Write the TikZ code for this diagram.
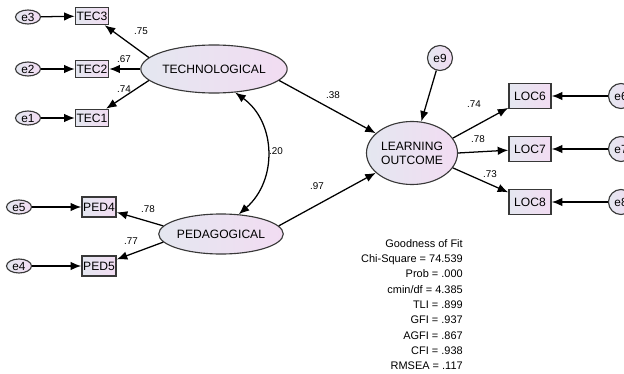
\documentclass[tikz,border=0pt]{standalone}
\usepackage{fontspec}
\setmainfont{Liberation Sans}
\usetikzlibrary{arrows.meta,shapes.geometric}
\definecolor{shadeL}{HTML}{E4E7F0}
\definecolor{shadeR}{HTML}{F2DCF2}
\definecolor{rim}{HTML}{383838}
\tikzset{
  latent/.style={ellipse,draw=rim,line width=0.8pt,left color=shadeL,right color=shadeR,
    inner sep=0pt,align=center,font=\fontsize{8.6}{10}\selectfont},
  observed/.style={rectangle,draw=rim,line width=1.1pt,left color=shadeL,right color=shadeR,
    inner sep=0pt,font=\fontsize{8.6}{10}\selectfont},
  errvar/.style={ellipse,draw=rim,line width=0.8pt,left color=shadeL,right color=shadeR,
    inner sep=0pt,minimum width=0.625cm,minimum height=0.35cm,font=\fontsize{8.4}{10}\selectfont},
  errcirc/.style={circle,draw=rim,line width=0.8pt,left color=shadeL,right color=shadeR,
    inner sep=0pt,minimum size=0.625cm,font=\fontsize{8.4}{10}\selectfont},
  coef/.style={font=\fontsize{7}{8}\selectfont,inner sep=0pt},
  path/.style={line width=0.9pt,-{Latex[length=7.5pt,width=6pt]}}
}
\begin{document}
\begin{tikzpicture}[x=0.025cm,y=-0.025cm]
                \useasboundingbox (0,0) rectangle (624,374);
                %% latent variables
                \node[latent,minimum width=3.15cm,minimum height=1.2cm] (tech) at (214,69) {TECHNOLOGICAL};
                \node[latent,minimum width=2.925cm,minimum height=1.0cm] (peda) at (221,234) {PEDAGOGICAL};
                \node[latent,minimum width=2.275cm,minimum height=1.575cm] (learn) at (412,153) {LEARNING\\OUTCOME};
                %% indicators
                \node[observed,minimum width=0.825cm,minimum height=0.425cm] (tec3) at (92,16) {TEC3};
                \node[observed,minimum width=0.825cm,minimum height=0.425cm] (tec2) at (92,69) {TEC2};
                \node[observed,minimum width=0.825cm,minimum height=0.425cm] (tec1) at (92,118) {TEC1};
                \node[observed,minimum width=0.85cm,minimum height=0.5cm] (ped4) at (99,207) {PED4};
                \node[observed,minimum width=0.85cm,minimum height=0.5cm] (ped5) at (99,266) {PED5};
                \node[observed,minimum width=1.05cm,minimum height=0.625cm] (loc6) at (530,96) {LOC6};
                \node[observed,minimum width=1.05cm,minimum height=0.625cm] (loc7) at (530,149) {LOC7};
                \node[observed,minimum width=1.05cm,minimum height=0.625cm] (loc8) at (530,202) {LOC8};
                %% errors
                \node[errvar] (e3) at (28,17) {e3};
                \node[errvar] (e2) at (28,69) {e2};
                \node[errvar] (e1) at (28,118) {e1};
                \node[errvar] (e5) at (19,207) {e5};
                \node[errvar] (e4) at (19,266) {e4};
                \node[errcirc] (e9) at (440,58) {e9};
                \node[errcirc] (e6) at (621,96) {e6};
                \node[errcirc] (e7) at (621,149) {e7};
                \node[errcirc] (e8) at (621,202) {e8};
                %% error arrows
                \draw[path] (e3) -- (tec3);
                \draw[path] (e2) -- (tec2);
                \draw[path] (e1) -- (tec1);
                \draw[path] (e5) -- (ped4);
                \draw[path] (e4) -- (ped5);
                \draw[path] (e9) -- (learn);
                \draw[path] (e6) -- (loc6);
                \draw[path] (e7) -- (loc7);
                \draw[path] (e8) -- (loc8);
                %% loadings
                \draw[path] (tech.170) -- (tec3);
                \draw[path] (tech.west) -- (tec2);
                \draw[path] (tech.190) -- (tec1);
                \draw[path] (peda.172) -- (ped4);
                \draw[path] (peda.188) -- (ped5);
                \draw[path] (learn.20) -- (loc6);
                \draw[path] (learn.east) -- (loc7);
                \draw[path] (learn.-20) -- (loc8);
                %% structural paths
                \draw[path] (tech.350) -- (learn);
                \draw[path] (peda.8) -- (learn);
                %% covariance
                \draw[line width=0.9pt,{Latex[length=7.5pt,width=6pt]}-{Latex[length=7.5pt,width=6pt]}]
                  (tech.312) .. controls (276,122) and (278,180) .. (peda.48);
                %% coefficients
                \node[coef] (c1) at (141,31) {.75};
                \node[coef] (c2) at (124,59) {.67};
                \node[coef] (c3) at (124,89) {.74};
                \node[coef] (c4) at (148,209) {.78};
                \node[coef] (c5) at (131,241) {.77};
                \node[coef] (c6) at (276,151) {.20};
                \node[coef] (c7) at (333,95) {.38};
                \node[coef] (c8) at (317,186) {.97};
                \node[coef] (c9) at (474,104) {.74};
                \node[coef] (c10) at (478,139) {.78};
                \node[coef] (c11) at (490,174) {.73};
                %% fit
                \node[anchor=north east,align=right,inner sep=0pt,
                  font=\fontsize{7.8}{10.9}\selectfont] (fit) at (463,239)
                  {Goodness of Fit\\Chi-Square = 74.539\\Prob = .000\\cmin/df = 4.385\\TLI = .899\\GFI = .937\\AGFI = .867\\CFI = .938\\RMSEA = .117};
            \end{tikzpicture}
\end{document}
